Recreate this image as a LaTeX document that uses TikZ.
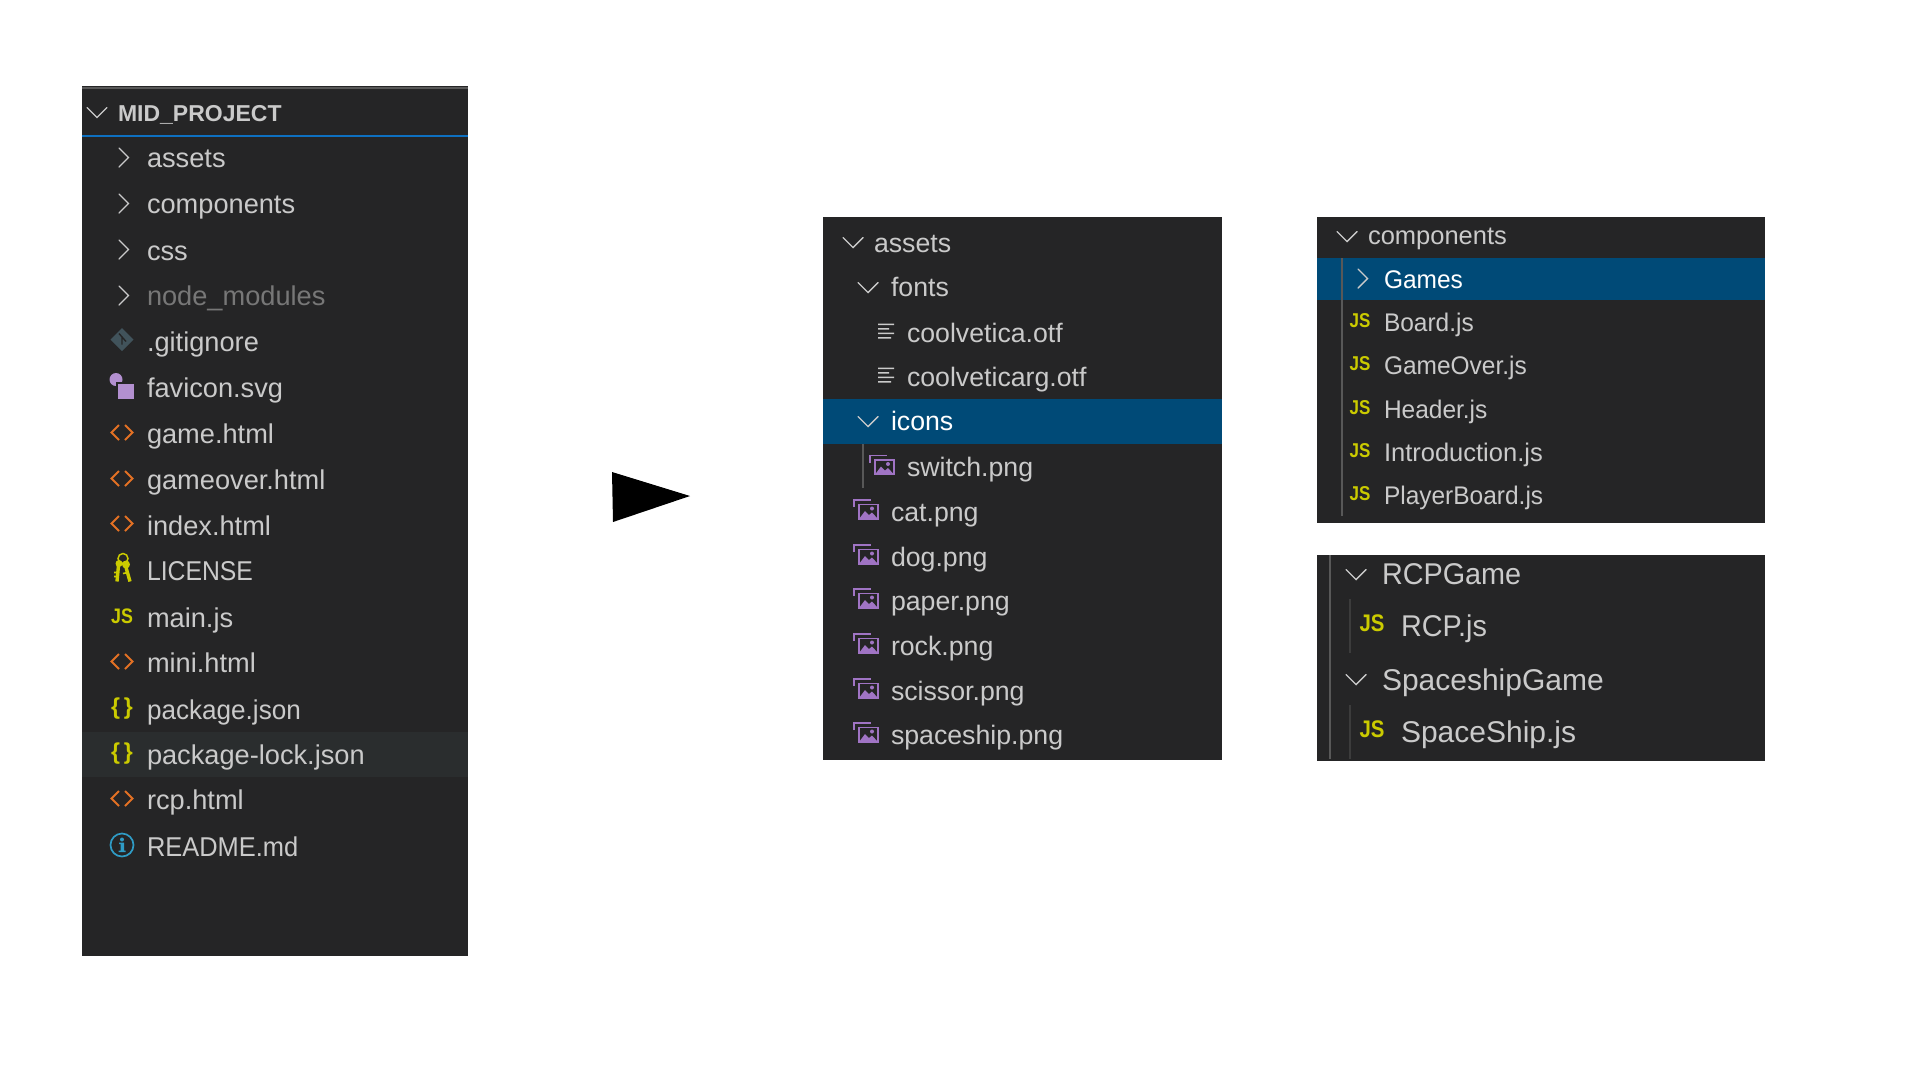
\documentclass[tikz,border=0pt]{standalone}
\usepackage{fontspec}
\setmainfont{Liberation Sans}
\newfontfamily\tightfont[FakeStretch=0.96]{Liberation Sans}
\newfontfamily\mixedfont[FakeStretch=0.935]{Liberation Sans}
\newfontfamily\capsfont[FakeStretch=0.91]{Liberation Sans}
\newfontfamily\badgefont[FakeStretch=0.85]{Liberation Sans}
\usetikzlibrary{positioning}
\definecolor{panelbg}{HTML}{252526}
\definecolor{selectbg}{HTML}{004A77}
\definecolor{hoverbg}{HTML}{2A2D2E}
\definecolor{rowgrey}{HTML}{CACACA}
\definecolor{dimgrey}{HTML}{777777}
\definecolor{guidegrey}{HTML}{585858}
\definecolor{guidedark}{HTML}{3C3C3C}
\definecolor{focusblue}{HTML}{0E70C0}
\definecolor{jsyellow}{HTML}{CBCB00}
\definecolor{htmlorange}{HTML}{E37124}
\definecolor{imgpurple}{HTML}{A074C4}
\definecolor{infoblue}{HTML}{2F9CC6}
\definecolor{gitslate}{HTML}{41535B}
\tikzstyle{panel}=[rectangle, fill=panelbg, anchor=north west, inner sep=0pt, outer sep=0pt]
\tikzstyle{band}=[rectangle, fill=selectbg, anchor=north west, inner sep=0pt, outer sep=0pt]
\tikzstyle{rowtext}=[text=rowgrey, inner sep=0pt, outer sep=0pt, text width=280pt, align=left,
        text height=21pt, text depth=4pt, font=\fontsize{27.2}{30}\selectfont]
\tikzstyle{rowmid}=[rowtext, font=\fontsize{26.7}{30}\selectfont]
\tikzstyle{rowsmall}=[rowtext, font=\fontsize{25.5}{30}\selectfont]
\tikzstyle{rowlarge}=[rowtext, font=\fontsize{30}{32}\selectfont]
\tikzstyle{jsicon}=[text=jsyellow, inner sep=0pt, font=\fontsize{21}{22}\badgefont\bfseries]
\tikzstyle{jsonicon}=[text=jsyellow, inner sep=0pt, font=\fontsize{23}{24}\selectfont\bfseries]
\tikzstyle{chevron}=[draw=rowgrey, line width=1.4pt, line cap=round, line join=miter]
\tikzset{
  chevright/.pic={\draw[chevron] (-5,-9.5) -- (4.5,0) -- (-5,9.5);},
  chevdown/.pic={\draw[chevron] (-10,-5) -- (0,5) -- (10,-5);},
  htmlglyph/.pic={\draw[htmlorange, line width=2pt] (-3,-7.5) -- (-10.5,0) -- (-3,7.5) (3,-7.5) -- (10.5,0) -- (3,7.5);},
  fileglyph/.pic={
    \fill[rowgrey] (-8,-9) rectangle (8,-7.5) (-8,-4.5) rectangle (3,-3) (-8,0) rectangle (8,1.5) (-8,4.5) rectangle (5,6);},
  imgglyph/.pic={
    \draw[imgpurple, line width=1.6pt] (-12,-3) -- (-12,-10) -- (5,-10);
    \draw[imgpurple, line width=1.6pt] (-7,-5.5) rectangle (12,9);
    \fill[imgpurple] (-7,9) -- (-1,1) -- (3,5) -- (6,2.5) -- (12,9) -- cycle (6,-1.5) circle (2);},
  gitglyph/.pic={
    \fill[gitslate] (0,-11.5) -- (11.5,0) -- (0,11.5) -- (-11.5,0) -- cycle;
    \draw[panelbg, line width=1.4pt] (-3,-6) -- (4,2) (0,-3) -- (0,5);},
  svgglyph/.pic={
    \fill[imgpurple!80!white] (-6,-9) circle (6.5);
    \fill[panelbg] (-6,-7) rectangle (13,9);
    \fill[imgpurple!80!white] (-4,-5) rectangle (11.5,10.5);},
  keyglyph/.pic={
    \draw[jsyellow, line width=1.5pt] (1,-10) circle (5);
    \fill[jsyellow] (-3,-5) circle (3.5) (4,-4) circle (4);
    \draw[jsyellow, line width=3.4pt] (-3.5,-3) -- (-5,13) (3.5,-3) -- (8,13);
    \draw[jsyellow, line width=1.6pt] (-5,4) -- (-8,4) (-5,8) -- (-8,8) (6,4) -- (1,5);},
  infoglyph/.pic={
    \draw[infoblue, line width=1.7pt] (0,0) circle (11.5);
    \fill[infoblue] (0,-5.5) circle (2);
    \fill[infoblue] (-3,-2.5) rectangle (2,-1) (-1.5,-2.5) rectangle (2,6) (-3.5,5.5) rectangle (3.5,7);}
}

\begin{document}
\begin{tikzpicture}[x=1pt, y=-1pt]
        \useasboundingbox (0,0) rectangle (1920,1080);
        \fill[white] (0,0) rectangle (1920,1080);

        \node (Sidebar) [panel, minimum width=386pt, minimum height=870pt] at (82,86) {};
        \fill[guidegrey] (82,87) rectangle (468,89);
        \fill[focusblue] (82,135.2) rectangle (468,136.8);
        \node (LockBand) [band, fill=hoverbg, minimum width=386pt, minimum height=45pt] at (82,732) {};

        \node (MidProject) [rowtext, anchor=base west, font=\fontsize{23}{26}\selectfont\bfseries] at (118,121) {MID\_PROJECT};
        \node (Assets) [rowtext, anchor=base west] at (147,167) {assets};
        \node (Components) [rowtext, below=21pt of Assets] {components};
        \node (Css) [rowtext, below=22pt of Components] {css};
        \node (NodeModules) [rowtext, text=dimgrey, below=20pt of Css] {node\_modules};
        \node (Gitignore) [rowtext, below=21pt of NodeModules] {.gitignore};
        \node (Favicon) [rowtext, below=21pt of Gitignore] {favicon.svg};
        \node (Game) [rowtext, below=21pt of Favicon] {game.html};
        \node (GameoverHtml) [rowtext, below=21pt of Game] {gameover.html};
        \node (Index) [rowtext, below=21pt of GameoverHtml] {index.html};
        \node (License) [rowtext, below=20pt of Index] {\capsfont LICENSE};
        \node (MainJs) [rowtext, below=22pt of License] {main.js};
        \node (Mini) [rowtext, below=20pt of MainJs] {mini.html};
        \node (Package) [rowtext, below=22pt of Mini] {\tightfont package.json};
        \node (PackageLock) [rowtext, below=20pt of Package] {package-lock.json};
        \node (Rcp) [rowtext, below=20pt of PackageLock] {rcp.html};
        \node (Readme) [rowtext, below=22pt of Rcp] {\mixedfont README.md};

        \pic at ([xshift=-21pt]MidProject.west) {chevdown};
        \pic at ([xshift=-23pt,yshift=1pt]Assets.west) {chevright};
        \pic at ([xshift=-23pt,yshift=1pt]Components.west) {chevright};
        \pic at ([xshift=-23pt,yshift=2pt]Css.west) {chevright};
        \pic at ([xshift=-23pt,yshift=1pt]NodeModules.west) {chevright};
        \pic at ([xshift=-25pt,yshift=3pt]Gitignore.west) {gitglyph};
        \pic at ([xshift=-25pt]Favicon.west) {svgglyph};
        \pic at ([xshift=-25pt,yshift=2pt]Game.west) {htmlglyph};
        \pic at ([xshift=-25pt,yshift=2pt]GameoverHtml.west) {htmlglyph};
        \pic at ([xshift=-25pt,yshift=3pt]Index.west) {htmlglyph};
        \pic at ([xshift=-25pt,yshift=3pt]License.west) {keyglyph};
        \node (MainJsIcon) [jsicon] at ([xshift=-25pt,yshift=2pt]MainJs.west) {JS};
        \pic at ([xshift=-25pt,yshift=2pt]Mini.west) {htmlglyph};
        \node (PackageIcon) [jsonicon] at ([xshift=-25pt,yshift=2pt]Package.west) {\{\,\}};
        \node (PackageLockIcon) [jsonicon] at ([xshift=-25pt,yshift=2pt]PackageLock.west) {\{\,\}};
        \pic at ([xshift=-25pt,yshift=2pt]Rcp.west) {htmlglyph};
        \pic at ([xshift=-25pt,yshift=2.5pt]Readme.west) {infoglyph};

        \fill[black] (612,472) -- (690,496) -- (613,522) -- cycle;

        \node (AssetsPanel) [panel, minimum width=399pt, minimum height=543pt] at (823,217) {};
        \node (IconsBand) [band, minimum width=399pt, minimum height=45pt] at (823,399) {};
        \fill[guidegrey] (862.2,444) rectangle (863.8,488);

        \node (AssetsHead) [rowmid, anchor=base west] at (874,252) {assets};
        \node (Fonts) [rowmid, below=19pt of AssetsHead, xshift=17pt] {fonts};
        \node (Coolvetica) [rowmid, below=21pt of Fonts, xshift=16pt] {coolvetica.otf};
        \node (Coolveticarg) [rowmid, below=19pt of Coolvetica] {coolveticarg.otf};
        \node (Icons) [rowmid, text=white, below=19pt of Coolveticarg, xshift=-16pt] {icons};
        \node (Switch) [rowmid, below=21pt of Icons, xshift=16pt] {switch.png};
        \node (Cat) [rowmid, below=20pt of Switch, xshift=-16pt] {cat.png};
        \node (Dog) [rowmid, below=20pt of Cat] {dog.png};
        \node (Paper) [rowmid, below=19pt of Dog] {paper.png};
        \node (Rock) [rowmid, below=20pt of Paper] {rock.png};
        \node (Scissor) [rowmid, below=20pt of Rock] {scissor.png};
        \node (Spaceship) [rowmid, below=19pt of Scissor] {spaceship.png};

        \pic at ([xshift=-21pt,yshift=1pt]AssetsHead.west) {chevdown};
        \pic at ([xshift=-23pt]Fonts.west) {chevdown};
        \pic at ([xshift=-21pt,yshift=1pt]Coolvetica.west) {fileglyph};
        \pic at ([xshift=-21pt,yshift=1pt]Coolveticarg.west) {fileglyph};
        \pic at ([xshift=-23pt]Icons.west) {chevdown};
        \pic at ([xshift=-25pt,yshift=2pt]Switch.west) {imgglyph};
        \pic at ([xshift=-25pt,yshift=2.5pt]Cat.west) {imgglyph};
        \pic at ([xshift=-25pt,yshift=2.5pt]Dog.west) {imgglyph};
        \pic at ([xshift=-25pt,yshift=2.5pt]Paper.west) {imgglyph};
        \pic at ([xshift=-25pt,yshift=2.5pt]Rock.west) {imgglyph};
        \pic at ([xshift=-25pt,yshift=2.5pt]Scissor.west) {imgglyph};
        \pic at ([xshift=-25pt,yshift=2.5pt]Spaceship.west) {imgglyph};

        \node (ComponentsPanel) [panel, minimum width=448pt, minimum height=306pt] at (1317,217) {};
        \node (GamesBand) [band, minimum width=448pt, minimum height=42pt] at (1317,258) {};
        \fill[guidegrey] (1341.4,258) rectangle (1342.6,516);

        \node (ComponentsHead) [rowsmall, anchor=base west] at (1368,244) {components};
        \node (Games) [rowsmall, text=white, below=19pt of ComponentsHead, xshift=16pt] {\tightfont Games};
        \node (Board) [rowsmall, below=18pt of Games] {\tightfont Board.js};
        \node (GameOver) [rowsmall, below=18pt of Board] {\tightfont GameOver.js};
        \node (Header) [rowsmall, below=19pt of GameOver] {\tightfont Header.js};
        \node (Introduction) [rowsmall, below=18pt of Header] {Introduction.js};
        \node (PlayerBoard) [rowsmall, below=18pt of Introduction] {\tightfont PlayerBoard.js};

        \pic at ([xshift=-21pt,yshift=-1pt]ComponentsHead.west) {chevdown};
        \pic at ([xshift=-21pt,yshift=1pt]Games.west) {chevright};
        \node (BoardIcon) [jsicon, font=\fontsize{20}{22}\badgefont\bfseries] at ([xshift=-24pt,yshift=2pt]Board.west) {JS};
        \node (GameOverIcon) [jsicon, font=\fontsize{20}{22}\badgefont\bfseries] at ([xshift=-24pt,yshift=2pt]GameOver.west) {JS};
        \node (HeaderIcon) [jsicon, font=\fontsize{20}{22}\badgefont\bfseries] at ([xshift=-24pt,yshift=2pt]Header.west) {JS};
        \node (IntroductionIcon) [jsicon, font=\fontsize{20}{22}\badgefont\bfseries] at ([xshift=-24pt,yshift=2pt]Introduction.west) {JS};
        \node (PlayerBoardIcon) [jsicon, font=\fontsize{20}{22}\badgefont\bfseries] at ([xshift=-24pt,yshift=2pt]PlayerBoard.west) {JS};

        \node (GamesPanel) [panel, minimum width=448pt, minimum height=206pt] at (1317,555) {};
        \fill[guidegrey] (1329,555) rectangle (1331,759);
        \fill[guidedark] (1349,599) rectangle (1351,653);
        \fill[guidedark] (1349,705) rectangle (1351,759);

        \node (RcpGame) [rowlarge, anchor=base west] at (1382,584) {\tightfont RCPGame};
        \node (RcpJs) [rowlarge, below=27.5pt of RcpGame, xshift=19pt] {\tightfont RCP.js};
        \node (SpaceshipGame) [rowlarge, below=28.5pt of RcpJs, xshift=-19pt] {SpaceshipGame};
        \node (SpaceShipJs) [rowlarge, below=27pt of SpaceshipGame, xshift=19pt] {SpaceShip.js};

        \pic at ([xshift=-26pt,yshift=1pt]RcpGame.west) {chevdown};
        \node (RcpJsIcon) [jsicon, font=\fontsize{24}{26}\badgefont\bfseries] at ([xshift=-29pt,yshift=5pt]RcpJs.west) {JS};
        \pic at ([xshift=-26pt,yshift=2pt]SpaceshipGame.west) {chevdown};
        \node (SpaceShipJsIcon) [jsicon, font=\fontsize{24}{26}\badgefont\bfseries] at ([xshift=-29pt,yshift=4pt]SpaceShipJs.west) {JS};
      \end{tikzpicture}
\end{document}
